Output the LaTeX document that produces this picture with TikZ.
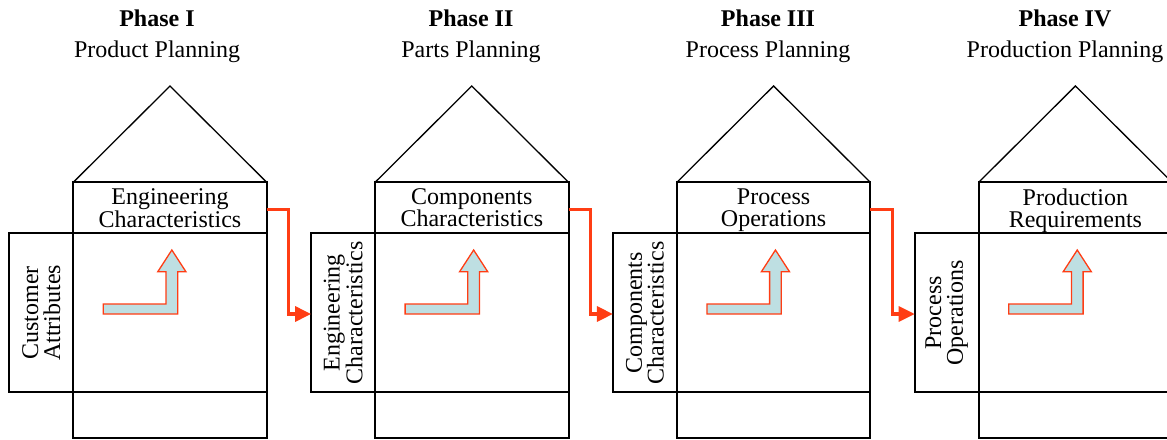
\documentclass[tikz,border=0pt]{standalone}
\usepackage{fontspec}
\setmainfont{Liberation Serif}
\usetikzlibrary{arrows.meta}
\definecolor{linkred}{HTML}{FF3D14}
\definecolor{flowfill}{HTML}{BEDFE2}
\tikzset{
  frame/.style={draw=black, line width=2pt, inner sep=0pt, outer sep=0pt},
  roofline/.style={draw=black, line width=1.3pt, line join=miter},
  cell/.style={frame, font=\fontsize{24}{21.8}\selectfont, align=center, text depth=0pt},
  sidelabel/.style={rotate=90, font=\fontsize{24}{21.8}\selectfont, align=center, inner sep=0pt},
  phase/.style={font=\fontsize{24}{29}\selectfont\bfseries, anchor=base, inner sep=0pt},
  subphase/.style={font=\fontsize{24}{29}\selectfont, anchor=base, inner sep=0pt},
  link/.style={draw=linkred, line width=3.2pt, -{Triangle[length=16pt,width=15pt]}},
  flow/.style={draw=linkred, line width=1.3pt, fill=flowfill, line join=miter},
}
\begin{document}
\begin{tikzpicture}[x=1pt, y=-1pt]
\useasboundingbox (0,0) rectangle (1167,439);
\clip (0,0) rectangle (1167,439);
% one house of quality per phase
\foreach \i/\tx/\ph/\sub/\toplbl/\sidelbl in {
  1/157/I/Product Planning/{Engineering\\Characteristics}/{Customer\\Attributes},
  2/471/II/Parts Planning/{Components\\Characteristics}/{Engineering\\Characteristics},
  3/768/III/Process Planning/{Process\\Operations}/{Components\\Characteristics},
  4/1065/IV/Production Planning/{Production\\Requirements}/{Process\\Operations}}
{
  \pgfmathsetmacro\L{73.3+301.8*(\i-1)}
  % headings
  \node[phase] (phase\i) at (\tx,26.7) {Phase \ph};
  \node[subphase] (plan\i) at (\tx,57.3) {\sub};
  % body of the house
  \node[cell, anchor=north west, minimum width=193.4pt, minimum height=51pt] (top\i) at (\L,182.3) {\toplbl};
  \node[frame, anchor=north west, minimum width=193.4pt, minimum height=159pt] (main\i) at (\L,233.3) {};
  \node[frame, anchor=north west, minimum width=193.4pt, minimum height=45.4pt] (base\i) at (\L,392.3) {};
  \node[frame, anchor=north east, minimum width=64pt, minimum height=159pt] (side\i) at (\L,233.3) {};
  \node[sidelabel] (sidetext\i) at (side\i.center) {\sidelbl};
  % roof
  \coordinate (apex\i) at (\L+96.7,86);
  \draw[roofline] (top\i.north west) -- (apex\i) -- (top\i.north east);
  % bent arrow inside the relationship matrix
  \begin{scope}[shift={(main\i.north west)}]
    \draw[flow] (30,70.7) -- (92.7,70.7) -- (92.7,38.4) -- (84.5,38.4) -- (98.55,16.7)
      -- (112.6,38.4) -- (104.4,38.4) -- (104.4,80.7) -- (30,80.7) -- cycle;
  \end{scope}
}
% outputs of one phase feed the next
\foreach \i/\j in {1/2,2/3,3/4}
  \draw[link] ([yshift=-1.5pt]top\i.east) -- ++(22,0) |- ([yshift=-1.2pt]side\j.west);
\end{tikzpicture}
\end{document}
